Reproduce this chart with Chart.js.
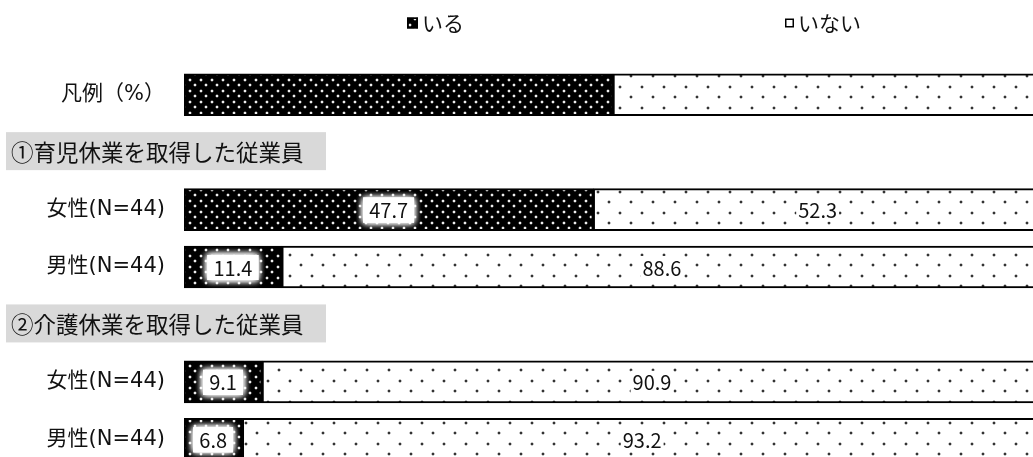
<!DOCTYPE html>
<html lang="ja">
<head>
<meta charset="utf-8">
<script src="https://cdn.jsdelivr.net/npm/chart.js@4.4.1/dist/chart.umd.min.js"></script>
<style>
html, body { margin: 0; padding: 0; background: #fff; overflow: hidden; }
#wrap { position: relative; width: 1042px; height: 468px; }
</style>
</head>
<body>
<div id="wrap"><canvas id="chart"></canvas></div>
<script>
// Data
const categories = ['凡例（%）', '①育児休業を取得した従業員', '女性(N=44)', '男性(N=44)', '②介護休業を取得した従業員', '女性(N=44)', '男性(N=44)'];
const headerRows = [1, 4];
const iruValues = [50, null, 47.7, 11.4, null, 9.1, 6.8];
const inaiValues = [50, null, 52.3, 88.6, null, 90.9, 93.2];
const seriesNames = ['いる', 'いない'];

const FONT = '"Noto Sans CJK JP", "Noto Sans", sans-serif';
const LABEL_FONT = '"DejaVu Sans", "Noto Sans CJK JP", sans-serif';

// dotted patterns
function darkPattern() {
    const c = document.createElement('canvas');
    c.width = 11; c.height = 11;
    const g = c.getContext('2d');
    g.fillStyle = '#000';
    g.fillRect(0, 0, 11, 11);
    [[2, 2], [7, 7]].forEach(([x, y]) => {
        g.fillStyle = '#3a3a3a';
        g.fillRect(x - 1, y, 4, 2);
        g.fillRect(x, y - 1, 2, 4);
        g.fillStyle = '#eeeeee';
        g.fillRect(x, y, 2, 2);
    });
    return g.createPattern(c, 'repeat');
}

function lightPattern() {
    const c = document.createElement('canvas');
    c.width = 22; c.height = 21;
    const g = c.getContext('2d');
    g.fillStyle = '#fff';
    g.fillRect(0, 0, 22, 21);
    [[3, 2], [14, 12]].forEach(([x, y]) => {
        g.fillStyle = '#c8c8c8';
        g.fillRect(x - 1, y, 4, 2);
        g.fillRect(x, y - 1, 2, 4);
        g.fillStyle = '#333';
        g.fillRect(x, y, 2, 2);
    });
    return g.createPattern(c, 'repeat');
}

const darkFill = darkPattern();
const lightFill = lightPattern();

// section headers, legend and value labels
const decorations = {
    id: 'decorations',
    afterDatasetsDraw(chart) {
        const ctx = chart.ctx;
        const y = chart.scales.y;

        // section headers (grey boxes)
        headerRows.forEach(i => {
            const cy = y.getPixelForValue(i);
            ctx.save();
            ctx.fillStyle = '#d9d9d9';
            ctx.fillRect(6, cy - 20, 320, 38);
            ctx.fillStyle = '#111';
            ctx.font = '22.5px ' + FONT;
            ctx.textBaseline = 'middle';
            ctx.textAlign = 'left';
            ctx.fillText(categories[i], 11, cy);
            ctx.restore();
        });

        // value labels
        chart.data.datasets.forEach((ds, di) => {
            const meta = chart.getDatasetMeta(di);
            meta.data.forEach((bar, i) => {
                if (i === 0 || ds.data[i] == null) return;
                const txt = ds.data[i].toFixed(1);
                const cx = (bar.x + bar.base) / 2;
                const cy = bar.y;
                ctx.save();
                ctx.font = '20px ' + FONT;
                const w = ctx.measureText(txt).width;
                if (di === 0) {
                    ctx.fillStyle = '#fff';
                    ctx.shadowColor = '#fff';
                    ctx.shadowBlur = 7;
                    for (let k = 0; k < 3; k++) {
                        ctx.fillRect(cx - w / 2 - 6, cy - 12, w + 12, 25);
                    }
                } else {
                    ctx.fillStyle = '#fff';
                    ctx.fillRect(cx - w / 2 - 2, cy - 11, w + 4, 23);
                }
                ctx.shadowBlur = 0;
                ctx.fillStyle = '#111';
                ctx.textAlign = 'center';
                ctx.textBaseline = 'middle';
                ctx.fillText(txt, cx, cy + 1);
                ctx.restore();
            });
        });

        // legend
        const items = [
            { x: 407, size: 11, fill: darkFill, label: seriesNames[0] },
            { x: 785, size: 9, fill: lightFill, label: seriesNames[1] }
        ];
        ctx.save();
        items.forEach(it => {
            const top = 23 - it.size / 2;
            ctx.fillStyle = it.fill;
            ctx.fillRect(it.x, top, it.size, it.size);
            ctx.strokeStyle = '#000';
            ctx.lineWidth = 1.5;
            ctx.strokeRect(it.x + 0.75, top + 0.75, it.size - 1.5, it.size - 1.5);
            ctx.fillStyle = '#111';
            ctx.font = '21px ' + FONT;
            ctx.textBaseline = 'middle';
            ctx.textAlign = 'left';
            ctx.fillText(it.label, it.x + it.size + 4, 23);
        });
        ctx.restore();
    }
};

new Chart(document.getElementById('chart'), {
    type: 'bar',
    data: {
        labels: categories,
        datasets: [
            {
                label: seriesNames[0],
                data: iruValues,
                backgroundColor: darkFill,
                borderColor: '#000',
                borderWidth: 2,
                borderSkipped: false,
                barThickness: 42
            },
            {
                label: seriesNames[1],
                data: inaiValues,
                backgroundColor: lightFill,
                borderColor: '#000',
                borderWidth: 2,
                borderSkipped: false,
                barThickness: 42
            }
        ]
    },
    options: {
        indexAxis: 'y',
        responsive: true,
        maintainAspectRatio: false,
        animation: false,
        layout: { padding: { top: 66, left: 0, right: 0, bottom: 0 } },
        plugins: {
            legend: { display: false },
            tooltip: { enabled: false }
        },
        scales: {
            x: {
                stacked: true,
                min: 0,
                max: 100,
                display: false
            },
            y: {
                stacked: true,
                grid: { display: false, drawTicks: false },
                border: { display: false },
                afterFit(scale) {
                    scale.width = 184;
                    scale.paddingTop = 0;
                    scale.paddingBottom = 0;
                },
                ticks: {
                    padding: 19,
                    color: '#111',
                    font: { family: LABEL_FONT, size: 21 },
                    callback: (v, i) => headerRows.includes(i) ? '' : categories[i]
                }
            }
        }
    },
    plugins: [decorations]
});
</script>
</body>
</html>
